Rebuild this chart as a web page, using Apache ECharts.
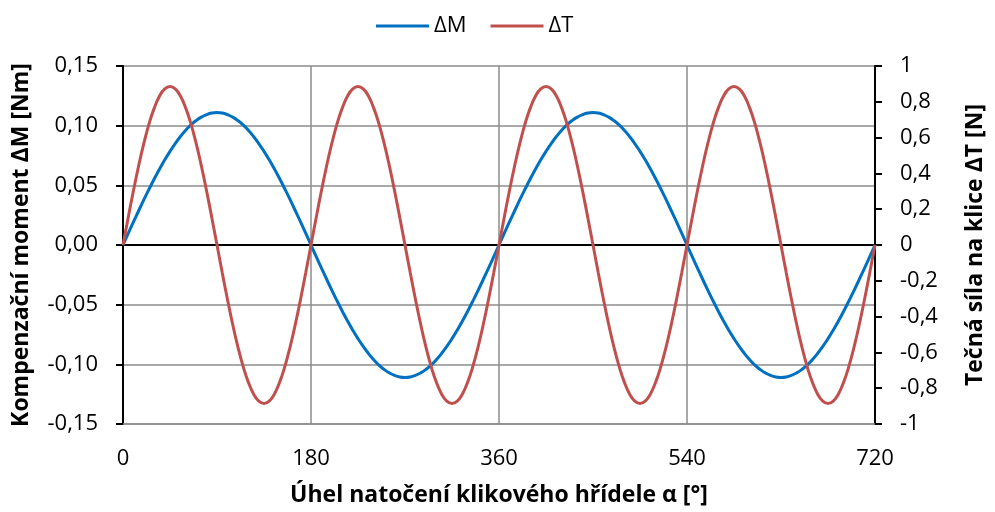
<!DOCTYPE html>
<html>
<head>
<meta charset="utf-8">
<script src="https://cdn.jsdelivr.net/npm/echarts@6/dist/echarts.min.js"></script>
<style>
  html, body { margin: 0; padding: 0; background: #fff; }
  #chart { width: 995px; height: 512px; }
</style>
</head>
<body>
<div id="chart"></div>
<script>
// Crank angle α in degrees (5° step)
const angles = [
  0, 5, 10, 15, 20, 25, 30, 35, 40, 45, 50, 55, 60, 65, 70, 75, 80, 85, 90,
  95, 100, 105, 110, 115, 120, 125, 130, 135, 140, 145, 150, 155, 160, 165, 170, 175, 180,
  185, 190, 195, 200, 205, 210, 215, 220, 225, 230, 235, 240, 245, 250, 255, 260, 265, 270,
  275, 280, 285, 290, 295, 300, 305, 310, 315, 320, 325, 330, 335, 340, 345, 350, 355, 360,
  365, 370, 375, 380, 385, 390, 395, 400, 405, 410, 415, 420, 425, 430, 435, 440, 445, 450,
  455, 460, 465, 470, 475, 480, 485, 490, 495, 500, 505, 510, 515, 520, 525, 530, 535, 540,
  545, 550, 555, 560, 565, 570, 575, 580, 585, 590, 595, 600, 605, 610, 615, 620, 625, 630,
  635, 640, 645, 650, 655, 660, 665, 670, 675, 680, 685, 690, 695, 700, 705, 710, 715, 720
];

// Compensating moment ΔM [Nm]
const deltaM = [
  0, 0.0097, 0.0193, 0.0287, 0.0380, 0.0469, 0.0555, 0.0637, 0.0714, 0.0785, 0.0850, 0.0909, 0.0961, 0.1006, 0.1043, 0.1072, 0.1093, 0.1106, 0.111,
  0.1106, 0.1093, 0.1072, 0.1043, 0.1006, 0.0961, 0.0909, 0.0850, 0.0785, 0.0714, 0.0637, 0.0555, 0.0469, 0.0380, 0.0287, 0.0193, 0.0097, 0,
  -0.0097, -0.0193, -0.0287, -0.0380, -0.0469, -0.0555, -0.0637, -0.0714, -0.0785, -0.0850, -0.0909, -0.0961, -0.1006, -0.1043, -0.1072, -0.1093, -0.1106, -0.111,
  -0.1106, -0.1093, -0.1072, -0.1043, -0.1006, -0.0961, -0.0909, -0.0850, -0.0785, -0.0714, -0.0637, -0.0555, -0.0469, -0.0380, -0.0287, -0.0193, -0.0097, 0,
  0.0097, 0.0193, 0.0287, 0.0380, 0.0469, 0.0555, 0.0637, 0.0714, 0.0785, 0.0850, 0.0909, 0.0961, 0.1006, 0.1043, 0.1072, 0.1093, 0.1106, 0.111,
  0.1106, 0.1093, 0.1072, 0.1043, 0.1006, 0.0961, 0.0909, 0.0850, 0.0785, 0.0714, 0.0637, 0.0555, 0.0469, 0.0380, 0.0287, 0.0193, 0.0097, 0,
  -0.0097, -0.0193, -0.0287, -0.0380, -0.0469, -0.0555, -0.0637, -0.0714, -0.0785, -0.0850, -0.0909, -0.0961, -0.1006, -0.1043, -0.1072, -0.1093, -0.1106, -0.111,
  -0.1106, -0.1093, -0.1072, -0.1043, -0.1006, -0.0961, -0.0909, -0.0850, -0.0785, -0.0714, -0.0637, -0.0555, -0.0469, -0.0380, -0.0287, -0.0193, -0.0097, 0
];

// Tangential force on the crank ΔT [N]
const deltaT = [
  0, 0.154, 0.303, 0.443, 0.569, 0.678, 0.766, 0.832, 0.872, 0.885, 0.872, 0.832, 0.766, 0.678, 0.569, 0.443, 0.303, 0.154, 0,
  -0.154, -0.303, -0.443, -0.569, -0.678, -0.766, -0.832, -0.872, -0.885, -0.872, -0.832, -0.766, -0.678, -0.569, -0.443, -0.303, -0.154, 0,
  0.154, 0.303, 0.443, 0.569, 0.678, 0.766, 0.832, 0.872, 0.885, 0.872, 0.832, 0.766, 0.678, 0.569, 0.443, 0.303, 0.154, 0,
  -0.154, -0.303, -0.443, -0.569, -0.678, -0.766, -0.832, -0.872, -0.885, -0.872, -0.832, -0.766, -0.678, -0.569, -0.443, -0.303, -0.154, 0,
  0.154, 0.303, 0.443, 0.569, 0.678, 0.766, 0.832, 0.872, 0.885, 0.872, 0.832, 0.766, 0.678, 0.569, 0.443, 0.303, 0.154, 0,
  -0.154, -0.303, -0.443, -0.569, -0.678, -0.766, -0.832, -0.872, -0.885, -0.872, -0.832, -0.766, -0.678, -0.569, -0.443, -0.303, -0.154, 0,
  0.154, 0.303, 0.443, 0.569, 0.678, 0.766, 0.832, 0.872, 0.885, 0.872, 0.832, 0.766, 0.678, 0.569, 0.443, 0.303, 0.154, 0,
  -0.154, -0.303, -0.443, -0.569, -0.678, -0.766, -0.832, -0.872, -0.885, -0.872, -0.832, -0.766, -0.678, -0.569, -0.443, -0.303, -0.154, 0
];

const seriesNames = ['ΔM', 'ΔT'];
const xTitle = 'Úhel natočení klikového hřídele α [°]';
const leftTitle = 'Kompenzační moment ΔM [Nm]';
const rightTitle = 'Tečná síla na klice ΔT [N]';

const FONT = '"Open Sans", "Noto Sans", sans-serif';
const LABEL_SIZE = 22;
const TITLE_SIZE = 23;
const comma = (v, d) => {
  const r = Math.round(v * 1e6) / 1e6;
  const s = d === undefined ? String(r) : r.toFixed(d);
  return s.replace('.', ',');
};
const pairs = (ys) => angles.map((a, i) => [a, ys[i]]);

const chart = echarts.init(document.getElementById('chart'), null, { renderer: 'canvas' });
chart.setOption({
  animation: false,
  backgroundColor: '#ffffff',
  textStyle: { fontFamily: FONT, color: '#000' },
  legend: {
    top: 10,
    left: 371,
    itemWidth: 53,
    itemHeight: 12,
    itemGap: 24,
    icon: 'path://M0,5 L53,5 L53,7.8 L0,7.8 Z',
    textStyle: { fontFamily: FONT, fontSize: LABEL_SIZE, color: '#000' },
    data: seriesNames
  },
  grid: { left: 123, right: 114, top: 66, bottom: 86, containLabel: false },
  xAxis: {
    type: 'value',
    min: 0, max: 720, interval: 180,
    name: xTitle,
    nameLocation: 'middle',
    nameGap: 60,
    nameTextStyle: { fontFamily: FONT, fontSize: TITLE_SIZE, fontWeight: 'bold', color: '#000' },
    axisLine: { show: true, onZero: false, lineStyle: { color: '#8c8c8c', width: 1.5 } },
    axisTick: { show: false },
    axisLabel: { fontFamily: FONT, fontSize: LABEL_SIZE, color: '#000', margin: 24 },
    splitLine: { show: true, lineStyle: { color: '#8c8c8c', width: 1.5 } }
  },
  yAxis: [
    {
      type: 'value',
      min: -0.15, max: 0.15, interval: 0.05,
      name: leftTitle,
      nameLocation: 'middle',
      nameGap: 90,
      nameRotate: 90,
      nameTextStyle: { fontFamily: FONT, fontSize: TITLE_SIZE, fontWeight: 'bold', color: '#000' },
      axisLine: { show: true, lineStyle: { color: '#000', width: 2 } },
      axisTick: { show: true, inside: false, length: 7, lineStyle: { color: '#000', width: 2 } },
      axisLabel: { fontFamily: FONT, fontSize: LABEL_SIZE, color: '#000', margin: 25, formatter: (v) => comma(v, 2) },
      splitLine: { show: true, lineStyle: { color: '#8c8c8c', width: 1.5 } }
    },
    {
      type: 'value',
      position: 'right',
      min: -1, max: 1, interval: 0.2,
      name: rightTitle,
      nameLocation: 'middle',
      nameGap: 89,
      nameRotate: 90,
      nameTextStyle: { fontFamily: FONT, fontSize: TITLE_SIZE, fontWeight: 'bold', color: '#000' },
      axisLine: { show: true, lineStyle: { color: '#000', width: 2 } },
      axisTick: { show: true, inside: false, length: 7, lineStyle: { color: '#000', width: 2 } },
      axisLabel: { fontFamily: FONT, fontSize: LABEL_SIZE, color: '#000', margin: 25, formatter: (v) => comma(v) },
      splitLine: { show: false }
    }
  ],
  series: [
    {
      name: seriesNames[0],
      type: 'line',
      yAxisIndex: 0,
      data: pairs(deltaM),
      showSymbol: false,
      smooth: true,
      lineStyle: { color: '#0070C0', width: 3 },
      itemStyle: { color: '#0070C0' },
      z: 3,
      markLine: {
        silent: true,
        symbol: 'none',
        label: { show: false },
        lineStyle: { color: '#000', width: 2, type: 'solid' },
        data: [{ yAxis: 0 }],
        z: 2
      }
    },
    {
      name: seriesNames[1],
      type: 'line',
      yAxisIndex: 1,
      data: pairs(deltaT),
      showSymbol: false,
      smooth: true,
      lineStyle: { color: '#C0504D', width: 3 },
      itemStyle: { color: '#C0504D' },
      z: 4
    }
  ]
});
</script>
</body>
</html>
